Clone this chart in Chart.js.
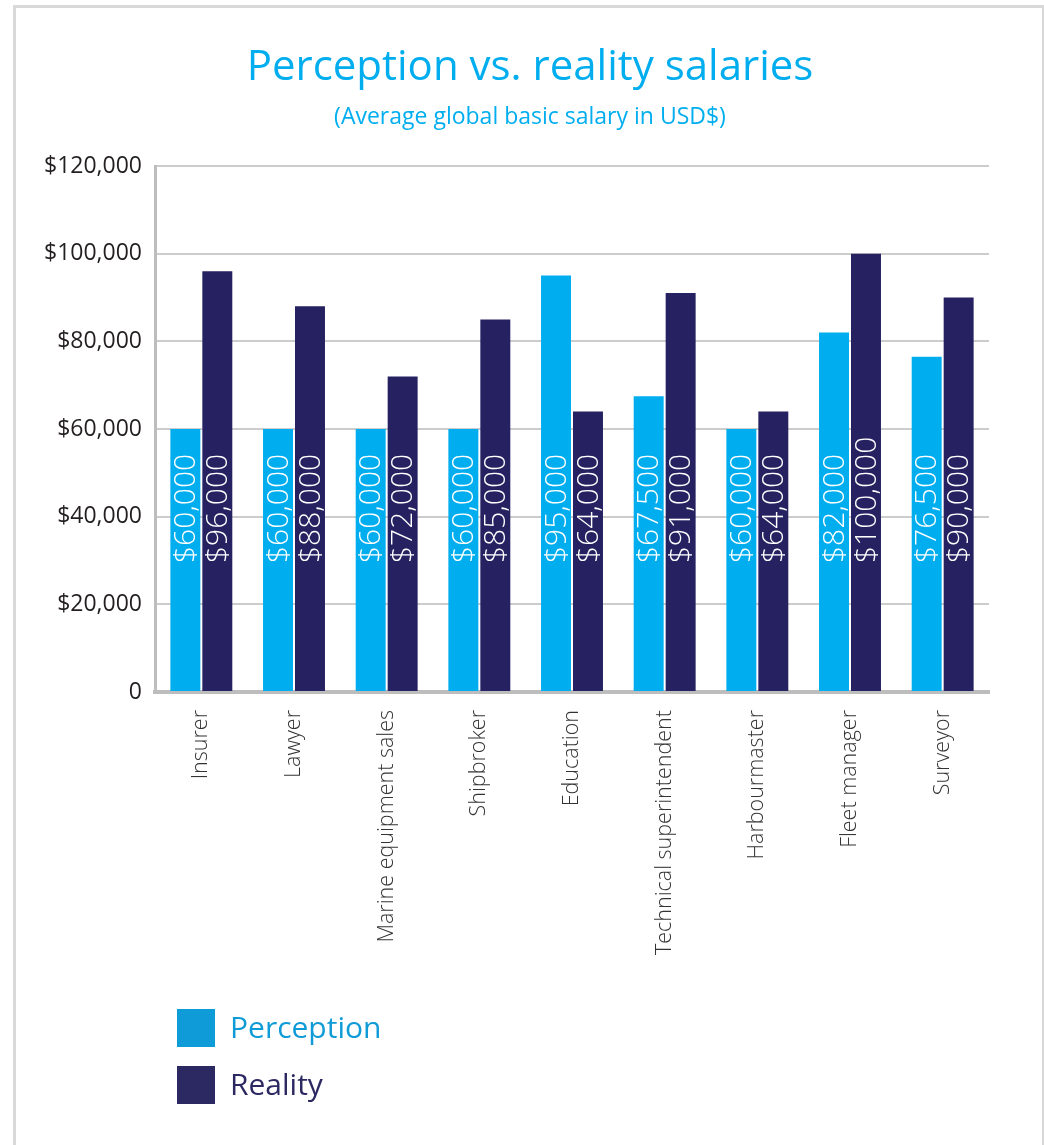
<!DOCTYPE html>
<html lang="en">
<head>
    <meta charset="UTF-8">
    <title>Perception vs. reality salaries</title>
    <script src="https://cdn.jsdelivr.net/npm/chart.js@4.4.1/dist/chart.umd.min.js"></script>
    <style>
        body { margin: 0; background: #fff; }
        #frame { position: absolute; left: 13px; top: 5px; width: 1026px; height: 1160px;
                 border: 3px solid #d9d9d9; border-bottom: none; }
        #chart { position: absolute; left: 0; top: 0; }
    </style>
</head>
<body>
    <div id="frame"></div>
    <canvas id="chart" width="1044" height="1145"></canvas>

    <script>
        // values
        const categories = ['Insurer', 'Lawyer', 'Marine equipment sales', 'Shipbroker', 'Education',
                            'Technical superintendent', 'Harbourmaster', 'Fleet manager', 'Surveyor'];
        const perception = [60000, 60000, 60000, 60000, 95000, 67500, 60000, 82000, 76500];
        const reality = [96000, 88000, 72000, 85000, 64000, 91000, 64000, 100000, 90000];
        const yTicks = [0, 20000, 40000, 60000, 80000, 100000, 120000];

        const titleText = 'Perception vs. reality salaries';
        const subtitleText = '(Average global basic salary in USD$)';

        const cyan = '#00aeef';
        const navy = '#262262';
        const FONT = '"Open Sans", "Noto Sans", sans-serif';

        function money(v) {
            return '$' + v.toLocaleString('en-US');
        }

        // title, subtitle and the stacked legend at the bottom
        const decor = {
            id: 'decor',
            beforeDraw(chart) {
                const ctx = chart.ctx;
                ctx.save();
                ctx.textAlign = 'center';
                ctx.textBaseline = 'alphabetic';
                ctx.fillStyle = cyan;
                ctx.font = '42px ' + FONT;
                ctx.fillText(titleText, 530, 80);
                ctx.font = '23px ' + FONT;
                ctx.fillText(subtitleText, 530, 124);

                const legendColors = ['#0f9bd7', '#2b2862'];
                ctx.textAlign = 'left';
                ctx.textBaseline = 'middle';
                ctx.font = '30px ' + FONT;
                chart.data.datasets.forEach((ds, i) => {
                    const top = 1009 + i * 57;
                    ctx.fillStyle = legendColors[i];
                    ctx.fillRect(177, top, 38, 38);
                    ctx.fillText(ds.label, 230, top + 20);
                });
                ctx.restore();
            }
        };

        // white rotated value labels inside the bars
        const barLabels = {
            id: 'barLabels',
            afterDatasetsDraw(chart) {
                const ctx = chart.ctx;
                const bottom = chart.chartArea.bottom;
                ctx.save();
                ctx.fillStyle = '#ffffff';
                ctx.font = '300 30px ' + FONT;
                ctx.textAlign = 'left';
                ctx.textBaseline = 'middle';
                chart.data.datasets.forEach((ds, i) => {
                    chart.getDatasetMeta(i).data.forEach((bar, j) => {
                        ctx.save();
                        ctx.translate(bar.x, bottom - 129);
                        ctx.rotate(-Math.PI / 2);
                        ctx.fillText(money(ds.data[j]), 0, 1);
                        ctx.restore();
                    });
                });
                ctx.restore();
            }
        };

        const ctx = document.getElementById('chart').getContext('2d');
        const myChart = new Chart(ctx, {
            type: 'bar',
            data: {
                labels: categories,
                datasets: [{
                    label: 'Perception',
                    data: perception,
                    backgroundColor: cyan,
                    barPercentage: 0.9375,
                    categoryPercentage: 0.69
                }, {
                    label: 'Reality',
                    data: reality,
                    backgroundColor: navy,
                    barPercentage: 0.9375,
                    categoryPercentage: 0.69
                }]
            },
            options: {
                responsive: false,
                animation: false,
                layout: { padding: { left: 15, right: 55, top: 166, bottom: 153 } },
                plugins: {
                    legend: { display: false },
                    tooltip: { enabled: false }
                },
                scales: {
                    x: {
                        grid: { display: false },
                        border: { color: '#bdbdbd', width: 4 },
                        ticks: {
                            color: '#333333',
                            font: { family: FONT, size: 21.5, weight: '300' },
                            minRotation: 90,
                            maxRotation: 90,
                            autoSkip: false,
                            padding: 10
                        },
                        afterFit(scale) { scale.height = 300; }
                    },
                    y: {
                        min: 0,
                        max: 120000,
                        afterBuildTicks(scale) { scale.ticks = yTicks.map(v => ({ value: v })); },
                        grid: { color: '#cccccc', lineWidth: 2, drawTicks: false },
                        border: { color: '#bdbdbd', width: 3 },
                        ticks: {
                            color: '#231f20',
                            font: { family: FONT, size: 23 },
                            padding: 13,
                            callback: v => v === 0 ? '0' : money(v)
                        },
                        afterFit(scale) { scale.width = 140; }
                    }
                }
            },
            plugins: [decor, barLabels]
        });
    </script>
</body>
</html>
